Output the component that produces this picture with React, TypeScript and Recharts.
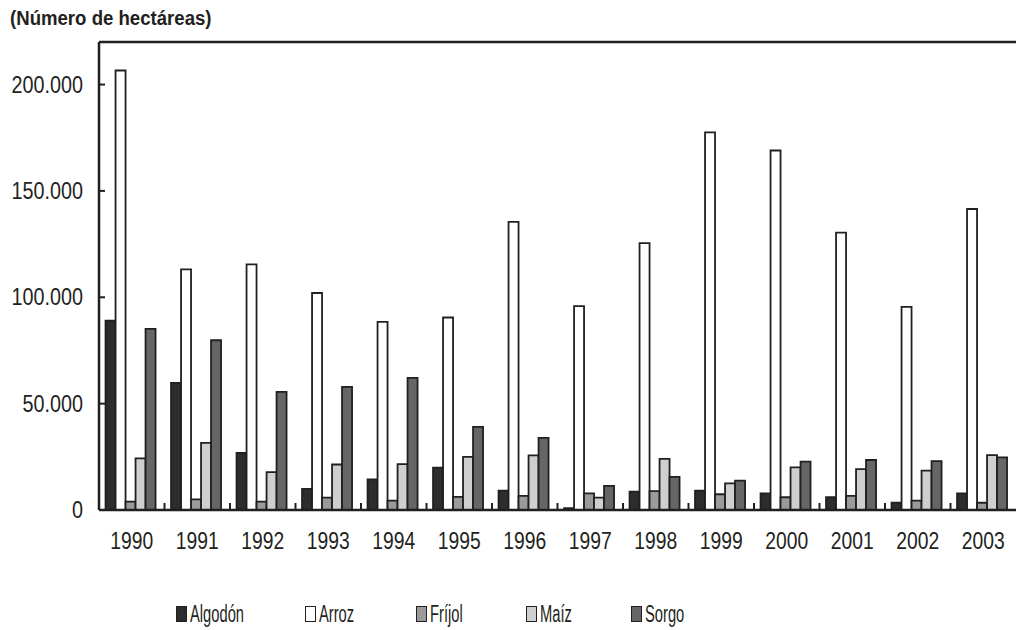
import React from 'react'
import { BarChart, Bar, XAxis, YAxis, ReferenceLine, Legend } from 'recharts'

const years = ['1990', '1991', '1992', '1993', '1994', '1995', '1996', '1997', '1998', '1999', '2000', '2001', '2002', '2003']

const algodon = [89000, 59800, 26900, 9900, 14400, 19900, 9100, 900, 8600, 9100, 7800, 6000, 3400, 7800]
const arroz = [206600, 113100, 115500, 102000, 88400, 90500, 135400, 95800, 125500, 177500, 169000, 130400, 95500, 141500]
const frijol = [3900, 5000, 3900, 5800, 4400, 6200, 6600, 7800, 8900, 7400, 6000, 6600, 4400, 3400]
const maiz = [24300, 31600, 17800, 21400, 21600, 25000, 25700, 5800, 24000, 12500, 20000, 19200, 18500, 25800]
const sorgo = [85100, 79800, 55500, 57900, 62100, 39100, 33900, 11300, 15600, 13800, 22700, 23500, 23000, 24700]

const yTicks = [0, 50000, 100000, 150000, 200000]

const data = years.map((y, i) => ({
    year: y,
    algodon: algodon[i],
    arroz: arroz[i],
    frijol: frijol[i],
    maiz: maiz[i],
    sorgo: sorgo[i],
}))

const SERIES = [
    { key: 'algodon', name: 'Algodón', fill: '#2d2d2d' },
    { key: 'arroz', name: 'Arroz', fill: '#ffffff' },
    { key: 'frijol', name: 'Fríjol', fill: '#9a9a9a' },
    { key: 'maiz', name: 'Maíz', fill: '#cfcfcf' },
    { key: 'sorgo', name: 'Sorgo', fill: '#666666' },
]

const FONT = "'Liberation Sans', Arial, sans-serif"
const INK = '#231f20'
const BAND = (1016 - 99) / years.length
const LEGEND_X = [176, 305, 416, 526, 631]

function fmt(v: number) {
    return v === 0 ? '0' : v.toLocaleString('de-DE')
}

// condensed look: regular font squeezed horizontally
function YTick({ x, y, payload }: any) {
    return (
        <g>
            <line x1={x + 16} x2={x + 22} y1={y} y2={y} stroke={INK} strokeWidth={2} />
            <text
                transform={`translate(${x} ${y + 8}) scale(0.86 1)`}
                textAnchor="end"
                fontFamily={FONT}
                fontSize={23}
                fill={INK}
            >
                {fmt(payload.value)}
            </text>
        </g>
    )
}

function XTick({ x, y, payload, index }: any) {
    return (
        <g>
            {index < years.length - 1 && (
                <line x1={x + BAND / 2} x2={x + BAND / 2} y1={y} y2={y - 7} stroke={INK} strokeWidth={2} />
            )}
            <text
                transform={`translate(${x} ${y + 39}) scale(0.84 1)`}
                textAnchor="middle"
                fontFamily={FONT}
                fontSize={23}
                fill={INK}
            >
                {payload.value}
            </text>
        </g>
    )
}

function LegendContent() {
    return (
        <div style={{ position: 'relative', width: 1016, height: 30 }}>
            {SERIES.map((s, i) => (
                <div
                    key={s.key}
                    style={{
                        position: 'absolute',
                        left: LEGEND_X[i],
                        top: 0,
                        display: 'flex',
                        alignItems: 'center',
                        whiteSpace: 'nowrap',
                        height: 30,
                    }}
                >
                    <span
                        style={{
                            display: 'inline-block',
                            width: 9,
                            height: 14,
                            background: s.fill,
                            border: `1.8px solid ${INK}`,
                            marginRight: 3,
                        }}
                    />
                    <span
                        style={{
                            display: 'inline-block',
                            fontFamily: FONT,
                            fontSize: 23,
                            lineHeight: '30px',
                            color: INK,
                            transform: 'scaleX(0.64)',
                            transformOrigin: 'left center',
                        }}
                    >
                        {s.name}
                    </span>
                </div>
            ))}
        </div>
    )
}

export default function App() {
    return (
        <div style={{ position: 'absolute', left: 0, top: 0, width: 1016, height: 630, background: '#fff', overflow: 'hidden' }}>
            <div
                style={{
                    position: 'absolute',
                    left: 10,
                    top: 7,
                    fontFamily: FONT,
                    fontWeight: 'bold',
                    fontSize: 20,
                    color: INK,
                    whiteSpace: 'nowrap',
                    transform: 'scaleX(0.93)',
                    transformOrigin: 'left center',
                }}
            >
                (Número de hectáreas)
            </div>
            <BarChart
                width={1016}
                height={630}
                data={data}
                margin={{ top: 42, right: 0, left: 0, bottom: 50 }}
                barCategoryGap="10%"
                barGap={0}
            >
                <XAxis
                    dataKey="year"
                    height={40}
                    axisLine={{ stroke: INK, strokeWidth: 2.5 }}
                    tickLine={false}
                    tickSize={0}
                    tickMargin={0}
                    interval={0}
                    tick={<XTick />}
                />
                <YAxis
                    width={99}
                    domain={[0, 220000]}
                    ticks={yTicks}
                    axisLine={{ stroke: INK, strokeWidth: 2.5 }}
                    tickLine={false}
                    tickSize={0}
                    tickMargin={16}
                    tick={<YTick />}
                />
                <ReferenceLine y={220000} stroke={INK} strokeWidth={2.5} />
                {SERIES.map((s) => (
                    <Bar
                        key={s.key}
                        dataKey={s.key}
                        name={s.name}
                        fill={s.fill}
                        stroke={INK}
                        strokeWidth={1.8}
                        isAnimationActive={false}
                    />
                ))}
                <Legend
                    content={<LegendContent />}
                    wrapperStyle={{ position: 'absolute', left: 0, top: 599, width: 1016, height: 30 }}
                />
            </BarChart>
        </div>
    )
}
